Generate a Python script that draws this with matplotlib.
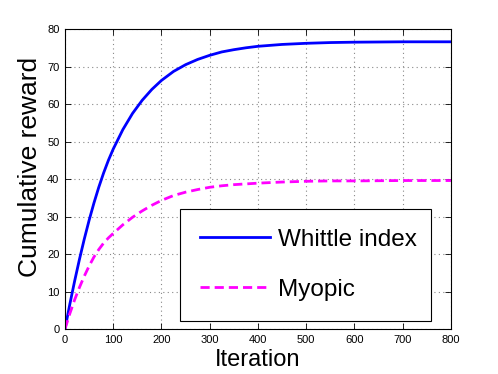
import matplotlib
matplotlib.use("Agg")
import matplotlib.pyplot as plt

plt.rcParams['font.family'] = ['Liberation Sans', 'DejaVu Sans']

iterations = [0, 10, 20, 30, 40, 50, 60, 70, 80, 90, 100, 120, 140, 160, 180, 200,
              225, 250, 275, 300, 325, 350, 375, 400, 450, 500, 550, 600, 700, 800]
whittle = [0, 6.6, 12.8, 18.6, 24.0, 29.0, 33.6, 37.8, 41.6, 45.0, 48.0, 53.2, 57.5, 61.0, 63.9, 66.3,
           68.7, 70.5, 71.9, 73.0, 73.9, 74.5, 75.0, 75.4, 75.9, 76.2, 76.4, 76.5, 76.6, 76.6]
myopic = [0, 4.1, 7.8, 11.1, 14.1, 16.8, 19.2, 21.2, 22.9, 24.3, 25.5, 27.8, 29.8, 31.5, 33.0, 34.3,
          35.6, 36.5, 37.2, 37.8, 38.2, 38.5, 38.7, 38.9, 39.2, 39.4, 39.5, 39.5, 39.6, 39.6]
series_names = ["Whittle index", "Myopic"]
xticks = [0, 100, 200, 300, 400, 500, 600, 700, 800]
yticks = [0, 10, 20, 30, 40, 50, 60, 70, 80]

fig = plt.figure(figsize=(4.98, 3.74), dpi=100)
ax = fig.add_axes([0.1305, 0.1203, 0.775, 0.802])

ax.plot(iterations, whittle, color='#0000ff', lw=2, label=series_names[0])
ax.plot(iterations, myopic, color='#ff00ff', lw=2, dashes=(3.3, 1.8), label=series_names[1])

ax.set_xlim(0, 800)
ax.set_ylim(0, 80)
ax.set_xticks(xticks)
ax.set_yticks(yticks)
ax.tick_params(direction='in', length=4, width=0.6, labelsize=8, top=True, right=True, pad=4)
ax.grid(True, linestyle=(0, (1, 3)), color='#888888', linewidth=0.8)
for s in ax.spines.values():
    s.set_linewidth(0.8)

ax.set_xlabel("Iteration", fontsize=17, labelpad=3)
ax.set_ylabel("Cumulative reward", fontsize=19)
ax.yaxis.set_label_coords(-0.06, 0.54)

leg = ax.legend(loc='upper left', bbox_to_anchor=(0.298, 0.027, 0.65, 0.373), mode='expand',
                fontsize=17.5, handlelength=2.9, handletextpad=0.3, labelspacing=1.15,
                borderpad=0.82, fancybox=False, framealpha=1, edgecolor='black', borderaxespad=0)
leg.get_frame().set_linewidth(0.8)

fig.savefig("out.png", dpi=100)
